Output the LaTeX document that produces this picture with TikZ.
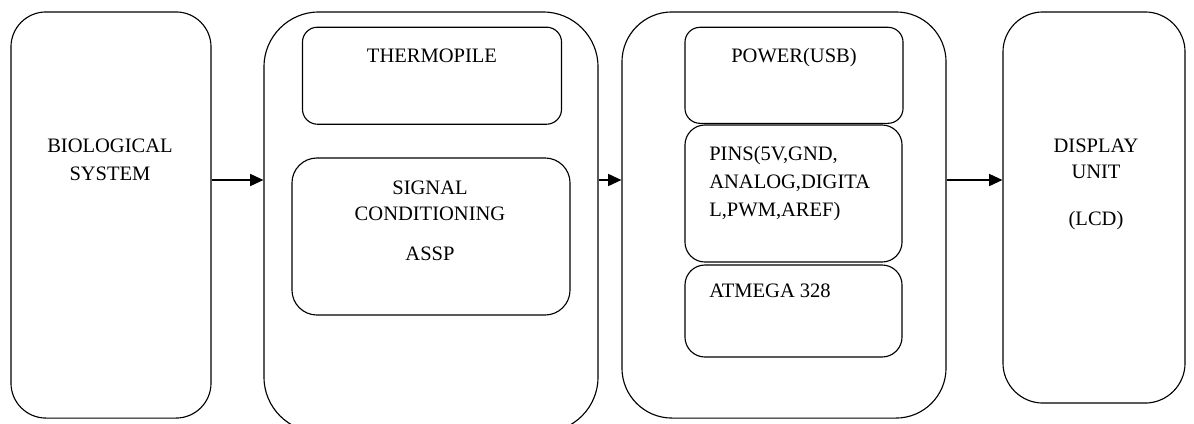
\documentclass[tikz,border=0pt]{standalone}
\usepackage{fontspec}
\setmainfont{Liberation Serif}
\usetikzlibrary{arrows.meta}
\begin{document}
\begin{tikzpicture}[x=0.025cm,y=-0.025cm,
 blk/.style={draw,line width=0.8pt,rounded corners=#1,inner sep=0pt},
 blk/.default=0.4cm,
 lbl/.style={font=\fontsize{14.6}{19.9}\selectfont,inner sep=0pt,align=center},
 arr/.style={line width=1pt,-{Triangle[length=0.33cm,width=0.3cm]}}]
 \useasboundingbox (0,0) rectangle (1194,423);
 % outer blocks
 \node[blk=0.875cm,minimum width=5cm,minimum height=10.15cm] (bio) at (111,215) {};
 \node[blk=1.375cm,minimum width=8.35cm,minimum height=10.5cm] (sens) at (431,222) {};
 \node[blk=1.25cm,minimum width=8.1cm,minimum height=10.15cm] (mcu) at (784,215) {};
 \node[blk=1cm,minimum width=4.55cm,minimum height=9.775cm] (disp) at (1094,207.5) {};
 % inner blocks
 \node[blk=0.375cm,minimum width=6.475cm,minimum height=2.425cm] (thermo) at (432,75.7) {};
 \node[blk=0.625cm,minimum width=6.95cm,minimum height=3.925cm] (cond) at (431,236.5) {};
 \node[blk=0.375cm,minimum width=5.45cm,minimum height=2.4cm] (pwr) at (794,75.3) {};
 \node[blk=0.5cm,minimum width=5.425cm,minimum height=3.425cm] (pins) at (793.5,193.5) {};
 \node[blk=0.5cm,minimum width=5.425cm,minimum height=2.3cm] (atm) at (793.5,311) {};
 % labels (base = last line)
 \node[lbl,anchor=base] (biot) at (110,180) {BIOLOGICAL\\SYSTEM};
 \node[lbl,anchor=base] (thermot) at (432,62) {THERMOPILE};
 \node[lbl,anchor=base] (condt) at (430,260) {SIGNAL\\[-1.5pt]CONDITIONING\\[8.5pt]ASSP};
 \node[lbl,anchor=base] (pwrt) at (794,62) {POWER(USB)};
 \node[lbl,anchor=base west,align=left] (pinst) at (709,216.5) {PINS(5V,GND,\\ANALOG,DIGITA\\L,PWM,AREF)};
 \node[lbl,anchor=base west] (atmt) at (709,297) {ATMEGA 328};
 \node[lbl,anchor=base] (dispt) at (1096,225) {DISPLAY\\[-1.5pt]UNIT\\[13.5pt](LCD)};
 % connectors
 \coordinate (ay) at (0,180);
 \draw[arr] (bio.east |- ay) -- (sens.west |- ay);
 \draw[arr] (sens.east |- ay) -- (mcu.west |- ay);
 \draw[arr] (mcu.east |- ay) -- (disp.west |- ay);
\end{tikzpicture}
\end{document}
